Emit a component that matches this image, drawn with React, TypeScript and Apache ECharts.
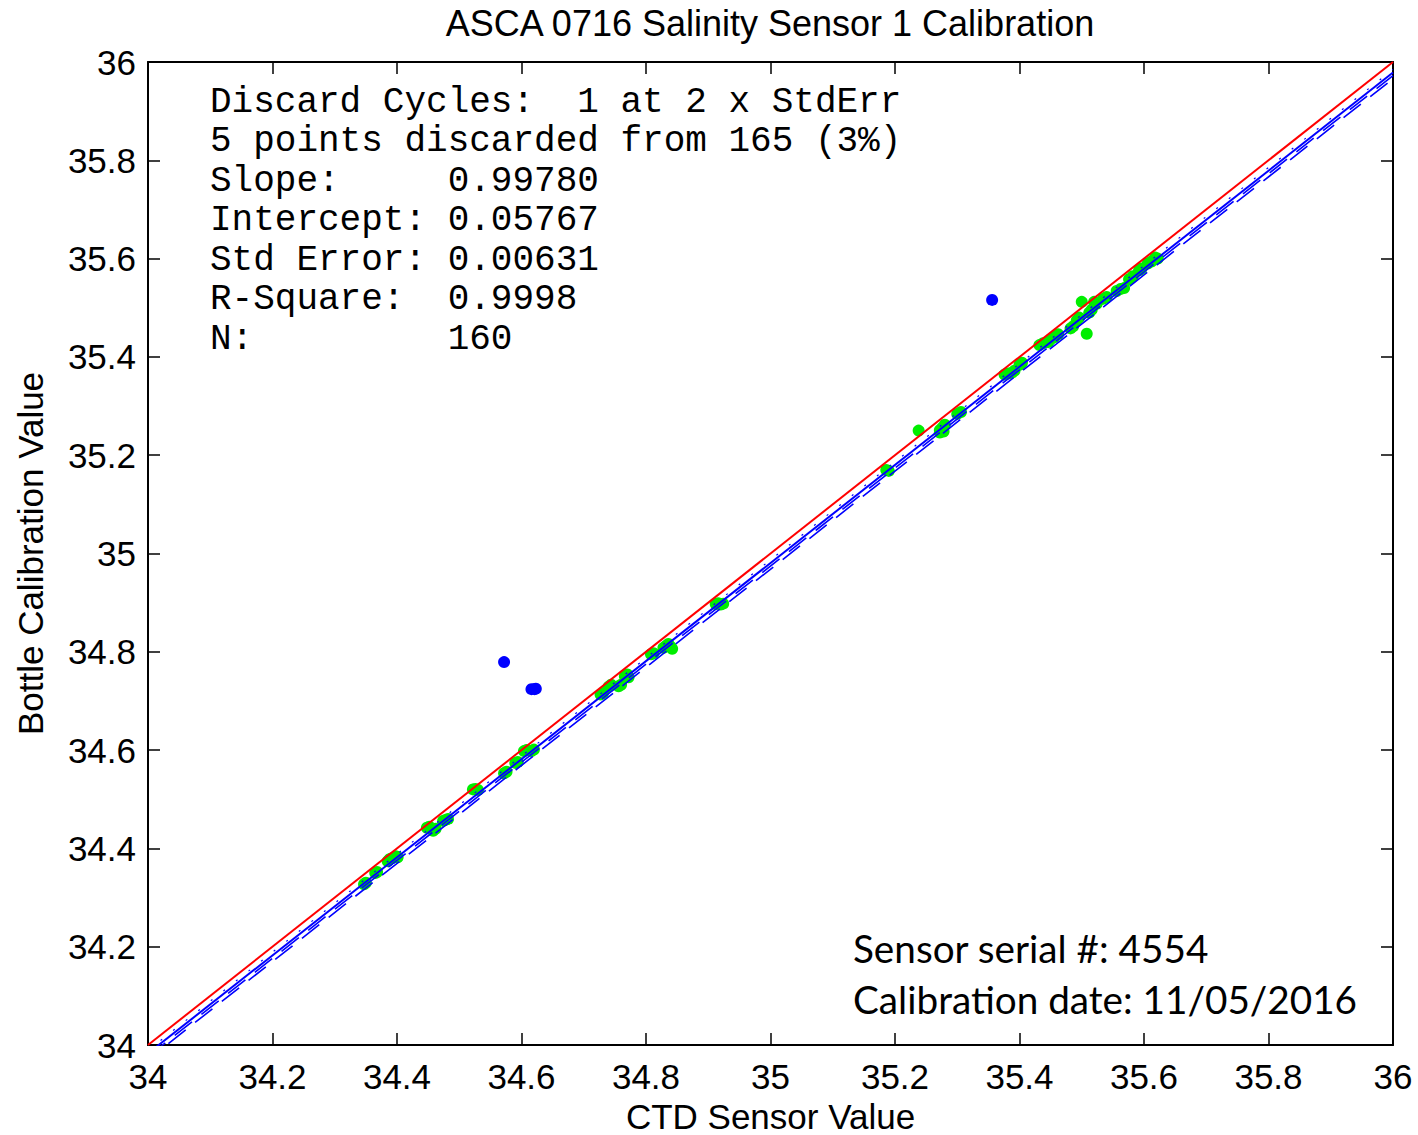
import React, { useEffect, useRef } from "react";
import * as echarts from "echarts";

const title = "ASCA 0716 Salinity Sensor 1 Calibration";
const xName = "CTD Sensor Value";
const yName = "Bottle Calibration Value";
const axisMin = 34;
const axisMax = 36;
const tickStep = 0.2;

const slope = 0.9978;
const intercept = 0.05767;
const stdErr = 0.00631;
const lineXs = [34, 36];

const statsLines = [
  "Discard Cycles:  1 at 2 x StdErr",
  "5 points discarded from 165 (3%)",
  "Slope:     0.99780",
  "Intercept: 0.05767",
  "Std Error: 0.00631",
  "R-Square:  0.9998",
  "N:         160",
];
const infoLines = ["Sensor serial #: 4554", "Calibration date: 11/05/2016"];

const keptPoints: [number, number][] = [
  [34.347, 34.327], [34.35, 34.33], [34.365, 34.35], [34.368, 34.352], [34.385, 34.374],
  [34.388, 34.378], [34.392, 34.38], [34.398, 34.384], [34.401, 34.382],
  [34.448, 34.442], [34.452, 34.444], [34.458, 34.436], [34.462, 34.44], [34.474, 34.456],
  [34.478, 34.458], [34.482, 34.46],
  [34.522, 34.52], [34.526, 34.521], [34.53, 34.519],
  [34.572, 34.553], [34.576, 34.556], [34.59, 34.574], [34.594, 34.576], [34.604, 34.598],
  [34.608, 34.6], [34.616, 34.598], [34.62, 34.601],
  [34.727, 34.713], [34.731, 34.716], [34.74, 34.729], [34.744, 34.733], [34.756, 34.73],
  [34.76, 34.733], [34.766, 34.75], [34.77, 34.754], [34.772, 34.748],
  [34.808, 34.795], [34.812, 34.797], [34.828, 34.808], [34.832, 34.812], [34.836, 34.816],
  [34.84, 34.81], [34.842, 34.806],
  [34.912, 34.897], [34.916, 34.899], [34.92, 34.896], [34.924, 34.898],
  [35.186, 35.17], [35.19, 35.168],
  [35.238, 35.25],
  [35.272, 35.251], [35.276, 35.256], [35.28, 35.262], [35.272, 35.246], [35.278, 35.248],
  [35.3, 35.284], [35.306, 35.288],
  [35.376, 35.364], [35.382, 35.366], [35.388, 35.368], [35.392, 35.372], [35.4, 35.384],
  [35.404, 35.388],
  [35.432, 35.424], [35.438, 35.428], [35.446, 35.43], [35.45, 35.436], [35.456, 35.44],
  [35.462, 35.446],
  [35.482, 35.458], [35.486, 35.462], [35.492, 35.474], [35.496, 35.48], [35.5, 35.512],
  [35.508, 35.447], [35.512, 35.49], [35.516, 35.496], [35.52, 35.512], [35.524, 35.508],
  [35.534, 35.518], [35.54, 35.522], [35.556, 35.534], [35.562, 35.538], [35.568, 35.54],
  [35.576, 35.558], [35.582, 35.564], [35.592, 35.576], [35.596, 35.58], [35.606, 35.59],
  [35.612, 35.594], [35.618, 35.602], [35.622, 35.6],
];

const discardedPoints: [number, number][] = [
  [34.572, 34.779],
  [34.616, 34.724],
  [34.621, 34.724],
  [34.623, 34.725],
  [35.356, 35.516],
];

const HELV = "'Liberation Sans', Arial, Helvetica, sans-serif";

export default function App() {
  const ref = useRef<HTMLDivElement>(null);
  useEffect(() => {
    document.body.style.margin = "0";
    if (!ref.current) return;
    const chart = echarts.init(ref.current, null, { renderer: "svg" });
    const fit = (x: number) => slope * x + intercept;
    const lineData = (off: number) => lineXs.map((x) => [x, fit(x) + off]);
    const fmt = (v: number) => String(+v.toFixed(1));
    const axisCommon = {
      type: "value",
      min: axisMin,
      max: axisMax,
      interval: tickStep,
      splitLine: { show: false },
      axisLine: { show: true, onZero: false, lineStyle: { color: "#000", width: 2 } },
      axisTick: { show: true, inside: true, length: 12, lineStyle: { color: "#000", width: 1.5 } },
    };
    const labelStyle = { color: "#000", fontSize: 35, fontFamily: HELV, formatter: fmt };
    const lineStyleBase = { color: "#0000ff", width: 1.6 };
    chart.setOption({
      animation: false,
      backgroundColor: "#fff",
      title: {
        text: title,
        left: 765,
        textAlign: "center",
        top: 0,
        textStyle: { color: "#000", fontSize: 36, fontWeight: "normal", fontFamily: HELV },
      },
      grid: {
        left: 148,
        right: 25,
        top: 62,
        bottom: 90,
        containLabel: false,
        outerBoundsMode: "none",
      },
      xAxis: [
        {
          ...axisCommon,
          position: "bottom",
          axisLabel: { ...labelStyle, margin: 14 },
          name: xName,
          nameLocation: "middle",
          nameGap: 52,
          nameTextStyle: { color: "#000", fontSize: 35, fontFamily: HELV },
        },
        { ...axisCommon, position: "top", axisLabel: { show: false } },
      ],
      yAxis: [
        {
          ...axisCommon,
          position: "left",
          axisLabel: { ...labelStyle, margin: 12 },
          name: yName,
          nameLocation: "middle",
          nameGap: 100,
          nameTextStyle: { color: "#000", fontSize: 35, fontFamily: HELV },
        },
        { ...axisCommon, position: "right", axisLabel: { show: false } },
      ],
      series: [
        {
          type: "scatter",
          data: keptPoints,
          symbol: "circle",
          symbolSize: 12,
          itemStyle: { color: "#00ee00", opacity: 1 },
          z: 2,
        },
        {
          type: "scatter",
          data: discardedPoints,
          symbol: "circle",
          symbolSize: 12,
          itemStyle: { color: "#0000ff", opacity: 1 },
          z: 2,
        },
        {
          type: "line",
          data: lineXs.map((x) => [x, x]),
          symbol: "none",
          clip: true,
          lineStyle: { color: "#ff0000", width: 2 },
          z: 5,
        },
        {
          type: "line",
          data: lineData(0),
          symbol: "none",
          clip: true,
          lineStyle: { ...lineStyleBase, width: 2 },
          z: 5,
        },
        {
          type: "line",
          data: lineData(-stdErr),
          symbol: "none",
          clip: true,
          lineStyle: { ...lineStyleBase, type: [22, 12] },
          z: 5,
        },
        {
          type: "line",
          data: lineData(-2 * stdErr),
          symbol: "none",
          clip: true,
          lineStyle: { ...lineStyleBase, type: [22, 12], dashOffset: 8 },
          z: 5,
        },
        {
          type: "line",
          data: lineData(stdErr),
          symbol: "none",
          clip: true,
          lineStyle: { ...lineStyleBase, width: 1.2, type: [2, 14] },
          z: 5,
        },
      ],
      graphic: [
        ...statsLines.map((t, i) => ({
          type: "text",
          x: 210,
          y: 102 + i * 39.5,
          z: 10,
          style: {
            text: t,
            fill: "#000",
            font: "36px 'Liberation Mono', 'DejaVu Sans Mono', monospace",
            textAlign: "left",
            textVerticalAlign: "middle",
            align: "left",
            verticalAlign: "middle",
          },
        })),
        ...infoLines.map((t, i) => ({
          type: "text",
          x: 853,
          y: 948 + i * 51,
          z: 10,
          style: {
            text: t,
            fill: "#000",
            font: "38.7px Lato, 'Open Sans', sans-serif",
            textAlign: "left",
            textVerticalAlign: "middle",
            align: "left",
            verticalAlign: "middle",
          },
        })),
      ],
    });
    return () => chart.dispose();
  }, []);
  return <div ref={ref} style={{ width: 1418, height: 1135 }} />;
}
